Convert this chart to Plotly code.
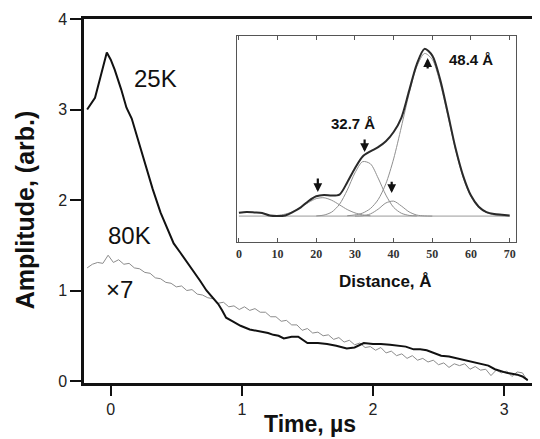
import plotly.graph_objects as go

# ---------------- main chart data ----------------
t_25k = [-0.18, -0.12, -0.08, -0.03, 0.00, 0.03, 0.08, 0.12, 0.16, 0.20,
         0.25, 0.32, 0.38, 0.43, 0.48, 0.53, 0.58, 0.63, 0.68, 0.73,
         0.78, 0.82, 0.85, 0.88, 0.93, 0.99, 1.06, 1.14, 1.20, 1.24,
         1.28, 1.32, 1.38, 1.43, 1.50, 1.58, 1.65, 1.72, 1.80, 1.86,
         1.93, 2.00, 2.06, 2.13, 2.19, 2.25, 2.31, 2.36, 2.41, 2.46,
         2.52, 2.58, 2.64, 2.70, 2.77, 2.83, 2.88, 2.93, 2.97, 3.02,
         3.06, 3.10, 3.14, 3.18]
a_25k = [3.00, 3.13, 3.35, 3.63, 3.55, 3.44, 3.22, 3.02, 2.90, 2.70,
         2.47, 2.12, 1.86, 1.70, 1.52, 1.42, 1.32, 1.22, 1.11, 1.00,
         0.92, 0.85, 0.78, 0.70, 0.66, 0.61, 0.57, 0.55, 0.53, 0.51,
         0.50, 0.47, 0.49, 0.49, 0.42, 0.42, 0.41, 0.39, 0.36, 0.37,
         0.42, 0.41, 0.41, 0.40, 0.39, 0.38, 0.35, 0.35, 0.34, 0.31,
         0.28, 0.27, 0.25, 0.23, 0.21, 0.19, 0.17, 0.13, 0.11, 0.09,
         0.08, 0.07, 0.05, 0.01]

t_80k = [-0.18, -0.14, -0.10, -0.06, -0.02, 0.02, 0.06, 0.10, 0.14, 0.18,
         0.22, 0.26, 0.30, 0.34, 0.38, 0.42, 0.46, 0.50, 0.54, 0.58,
         0.62, 0.66, 0.70, 0.74, 0.78, 0.82, 0.86, 0.90, 0.94, 0.98,
         1.02, 1.06, 1.10, 1.14, 1.18, 1.22, 1.26, 1.30, 1.34, 1.38,
         1.42, 1.46, 1.50, 1.54, 1.58, 1.62, 1.66, 1.70, 1.74, 1.78,
         1.82, 1.86, 1.90, 1.94, 1.98, 2.02, 2.06, 2.10, 2.14, 2.18,
         2.22, 2.26, 2.30, 2.34, 2.38, 2.42, 2.46, 2.50, 2.54, 2.58,
         2.62, 2.66, 2.70, 2.74, 2.78, 2.82, 2.86, 2.90, 2.94, 2.98,
         3.02, 3.06, 3.10, 3.14, 3.18]
a_80k_x7 = [1.25, 1.29, 1.31, 1.30, 1.39, 1.31, 1.34, 1.29, 1.30, 1.25,
            1.24, 1.20, 1.19, 1.14, 1.13, 1.09, 1.08, 1.04, 1.05, 1.00,
            1.01, 0.96, 0.95, 0.92, 0.91, 0.86, 0.87, 0.82, 0.83, 0.79,
            0.82, 0.78, 0.80, 0.76, 0.76, 0.71, 0.71, 0.66, 0.67, 0.62,
            0.62, 0.56, 0.58, 0.53, 0.54, 0.50, 0.51, 0.46, 0.48, 0.43,
            0.45, 0.40, 0.42, 0.37, 0.38, 0.34, 0.37, 0.31, 0.33, 0.28,
            0.30, 0.25, 0.28, 0.23, 0.25, 0.21, 0.23, 0.18, 0.20, 0.15,
            0.19, 0.17, 0.19, 0.13, 0.16, 0.12, 0.13, 0.06, 0.12, 0.09,
            0.11, 0.05, 0.10, 0.09, 0.00]

x_ticks = [0, 1, 2, 3]
y_ticks = [0, 1, 2, 3, 4]

# ---------------- inset data ----------------
d_total = [0, 2, 4, 6, 8, 10, 12, 14, 16, 18,
           20, 22, 24, 26, 28, 30, 32, 34, 36, 38,
           40, 42, 44, 46, 48, 50, 52, 54, 56, 58,
           60, 62, 64, 66, 68, 70]
p_total = [0.020, 0.025, 0.022, 0.018, 0.003, 0.000, 0.004, 0.025, 0.052, 0.090,
           0.118, 0.126, 0.122, 0.128, 0.200, 0.285, 0.355, 0.385, 0.410, 0.445,
           0.500, 0.585, 0.745, 0.905, 0.995, 0.955, 0.815, 0.615, 0.405, 0.238,
           0.122, 0.056, 0.024, 0.012, 0.008, 0.004]

d_c1 = [8, 10, 12, 14, 16, 18, 20, 22, 24, 26, 28, 30, 32, 34]
p_c1 = [0.001, 0.004, 0.012, 0.027, 0.052, 0.081, 0.104, 0.109, 0.094, 0.067,
        0.039, 0.019, 0.007, 0.002]
d_c2 = [20, 22, 24, 26, 28, 30, 32, 34, 36, 38, 40, 42, 44, 46]
p_c2 = [0.001, 0.006, 0.024, 0.070, 0.154, 0.257, 0.324, 0.311, 0.226, 0.125,
        0.052, 0.017, 0.004, 0.001]
d_c3 = [30, 32, 34, 36, 38, 40, 42, 44, 46, 48, 50]
p_c3 = [0.000, 0.002, 0.013, 0.041, 0.078, 0.089, 0.060, 0.025, 0.006, 0.001, 0.000]
d_c4 = [28, 30, 32, 34, 36, 38, 40, 42, 44, 46, 48, 50, 52, 54, 56, 58,
        60, 62, 64, 66, 68, 70]
p_c4 = [0.002, 0.007, 0.018, 0.045, 0.098, 0.193, 0.340, 0.530, 0.728, 0.890,
        0.968, 0.932, 0.795, 0.598, 0.395, 0.228, 0.116, 0.052, 0.021, 0.007,
        0.002, 0.000]
d_base = [0, 70]
p_base = [0, 0]
inset_ticks = [0, 10, 20, 30, 40, 50, 60, 70]

# arrows: (distance, tail height, head height)
arrow_d = [20.4, 32.5, 39.5, 48.8]
arrow_tail = [0.232, 0.464, 0.214, 0.869]
arrow_head = [0.143, 0.381, 0.137, 0.940]

SANS = "Liberation Sans, Arial, sans-serif"
SERIF = "Liberation Serif, Times New Roman, serif"

fig = go.Figure()

fig.add_trace(go.Scatter(x=t_80k, y=a_80k_x7, mode="lines",
                         line=dict(color="#8c8c8c", width=1), showlegend=False))
fig.add_trace(go.Scatter(x=t_25k, y=a_25k, mode="lines",
                         line=dict(color="#111111", width=2), showlegend=False))

# inset traces
fig.add_trace(go.Scatter(x=d_base, y=p_base, mode="lines", xaxis="x2", yaxis="y2",
                         line=dict(color="#9a9a9a", width=1), showlegend=False))
for dd, pp in [(d_c1, p_c1), (d_c2, p_c2), (d_c3, p_c3), (d_c4, p_c4)]:
    fig.add_trace(go.Scatter(x=dd, y=pp, mode="lines", xaxis="x2", yaxis="y2",
                             line=dict(color="#8f8f8f", width=1, shape="spline", smoothing=0.8),
                             showlegend=False))
fig.add_trace(go.Scatter(x=d_total, y=p_total, mode="lines", xaxis="x2", yaxis="y2",
                         line=dict(color="#2a2a2a", width=2, shape="spline", smoothing=0.8),
                         showlegend=False))

annotations = [
    dict(x=0.338, y=3.345, xref="x", yref="y", text="25K", showarrow=False,
         font=dict(family=SANS, size=24, color="#111")),
    dict(x=0.14, y=1.61, xref="x", yref="y", text="80K", showarrow=False,
         font=dict(family=SANS, size=24, color="#111")),
    dict(x=0.07, y=1.01, xref="x", yref="y", text="×7", showarrow=False,
         font=dict(family=SANS, size=24, color="#111")),
    dict(x=-0.129, y=0.475, xref="paper", yref="paper", text="<b>Amplitude, (arb.)</b>",
         textangle=-90, showarrow=False, xanchor="center", yanchor="middle",
         font=dict(family=SANS, size=25, color="#111")),
    dict(x=0.4956, y=-0.113, xref="paper", yref="paper", text="<b>Time, µs</b>",
         showarrow=False, xanchor="center", yanchor="middle",
         font=dict(family=SANS, size=23, color="#111")),
    dict(x=0.662, y=0.280, xref="paper", yref="paper", text="<b>Distance, Å</b>",
         showarrow=False, xanchor="center", yanchor="middle",
         font=dict(family=SANS, size=17, color="#111")),
    dict(x=29.4, y=0.55, xref="x2", yref="y2", text="<b>32.7 Å</b>",
         showarrow=False, font=dict(family=SANS, size=15, color="#111")),
    dict(x=59.9, y=0.93, xref="x2", yref="y2", text="<b>48.4 Å</b>",
         showarrow=False, font=dict(family=SANS, size=15, color="#111")),
]
for ad, at, ah in zip(arrow_d, arrow_tail, arrow_head):
    annotations.append(dict(x=ad, y=ah, ax=ad, ay=at, xref="x2", yref="y2",
                            axref="x2", ayref="y2", text="", showarrow=True,
                            arrowhead=2, arrowsize=0.8, arrowwidth=2.2,
                            arrowcolor="#111"))

# the page body adds an 8 px offset, so the figure is 8 px smaller than the window
fig.update_layout(
    width=532, height=431,
    margin=dict(l=76, r=0, t=11, b=56),
    paper_bgcolor="white", plot_bgcolor="white",
    showlegend=False,
    xaxis=dict(range=[-0.204, 3.274], tickvals=x_ticks, ticks="outside", ticklen=10,
               tickwidth=1.5, tickcolor="#111", showline=True, linewidth=2.5,
               linecolor="#111", mirror=True, showgrid=False, zeroline=False,
               tickfont=dict(family=SANS, size=16, color="#222")),
    yaxis=dict(range=[-0.022, 4.0], tickvals=y_ticks, ticks="outside", ticklen=11,
               tickwidth=1.5, tickcolor="#111", showline=True, linewidth=2.5,
               linecolor="#111", showgrid=False, zeroline=False,
               tickfont=dict(family=SANS, size=16, color="#222")),
    xaxis2=dict(domain=[0.3355, 0.947], anchor="y2", range=[-0.5, 71.6],
                tickvals=inset_ticks, ticks="inside", ticklen=4, tickcolor="#555",
                showline=True, linewidth=1, linecolor="#555", mirror="allticks",
                showgrid=False, zeroline=False,
                tickfont=dict(family=SERIF, size=12, color="#333", weight="bold")),
    yaxis2=dict(domain=[0.387, 0.953], anchor="x2", range=[-0.155, 1.071],
                showticklabels=False, ticks="", showline=True, linewidth=1,
                linecolor="#555", mirror=True, showgrid=False, zeroline=False),
    annotations=annotations,
)

fig.write_html("out.html")
